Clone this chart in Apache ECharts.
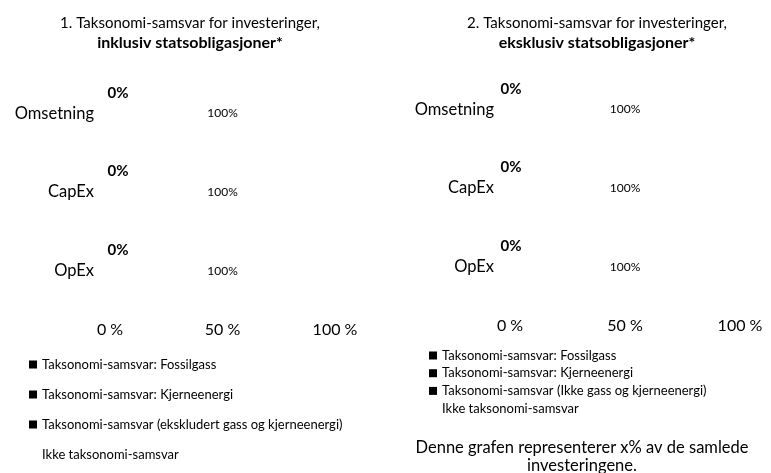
<!DOCTYPE html>
<html>
<head>
<meta charset="utf-8">
<script src="https://cdn.jsdelivr.net/npm/echarts@6/dist/echarts.min.js"></script>
<style>
html, body { margin: 0; padding: 0; background: #fff; }
#main { width: 771px; height: 473px; }
</style>
</head>
<body>
<div id="main"></div>
<script>
var myChart = echarts.init(document.getElementById('main'));

const categories = ['Omsetning', 'CapEx', 'OpEx'];
const xTicks = [0, 50, 100];

// 1. inklusiv statsobligasjoner
const gass1 = [0, 0, 0];
const kjerne1 = [0, 0, 0];
const samsvar1 = [0, 0, 0];
const ikke1 = [100, 100, 100];

// 2. eksklusiv statsobligasjoner
const gass2 = [0, 0, 0];
const kjerne2 = [0, 0, 0];
const samsvar2 = [0, 0, 0];
const ikke2 = [100, 100, 100];

const names1 = ['Taksonomi-samsvar: Fossilgass', 'Taksonomi-samsvar: Kjerneenergi',
    'Taksonomi-samsvar (ekskludert gass og kjerneenergi)', 'Ikke taksonomi-samsvar'];
const names2 = ['Taksonomi-samsvar: Fossilgass', 'Taksonomi-samsvar: Kjerneenergi',
    'Taksonomi-samsvar (Ikke gass og kjerneenergi)', 'Ikke taksonomi-samsvar'];

const font = 'Lato, "Open Sans", sans-serif';

function makeSeries(idx, data, name, color, label) {
    return {
        type: 'bar',
        name: name,
        xAxisIndex: idx,
        yAxisIndex: idx,
        stack: 'total' + idx,
        barWidth: 20,
        data: data,
        itemStyle: { color: color },
        label: label || { show: false }
    }
}

function zeroLabel(dx) {
    return {
        show: true, position: 'top', distance: 3, offset: [dx, 0],
        formatter: '{c}%', color: '#000', fontWeight: 'bold', fontSize: 15, fontFamily: font
    }
}
const fullLabel = {
    show: true, position: 'inside', formatter: '{c}%', color: '#000', fontSize: 12, fontFamily: font
}

function xAxis(idx) {
    return {
        type: 'value', gridIndex: idx, min: xTicks[0], max: xTicks[xTicks.length - 1], interval: 50,
        axisLine: { show: false }, axisTick: { show: false }, splitLine: { show: false },
        axisLabel: { formatter: '{value} %', color: '#000', fontSize: 16, fontFamily: font, margin: 12 }
    }
}
function yAxis(idx) {
    return {
        type: 'category', gridIndex: idx, data: categories, inverse: true,
        axisLine: { show: false }, axisTick: { show: false },
        axisLabel: { color: '#000', fontSize: 16.5, fontFamily: font, margin: 16 }
    }
}

const titleStyle = {
    color: '#000', fontSize: 15, fontWeight: 'normal', fontFamily: font, lineHeight: 19,
    rich: { b: { fontWeight: 'bold', fontSize: 16, fontFamily: font, lineHeight: 19 } }
}

option = {
    backgroundColor: '#fff',
    animation: false,
    title: [{
        text: '1. Taksonomi-samsvar for investeringer,\n{b|inklusiv statsobligasjoner*}',
        left: 185, top: 9, textAlign: 'center',
        textStyle: titleStyle
    }, {
        text: '2. Taksonomi-samsvar for investeringer,\n{b|eksklusiv statsobligasjoner*}',
        left: 592, top: 9, textAlign: 'center',
        textStyle: titleStyle
    }, {
        text: 'Denne grafen representerer x% av de samlede\ninvesteringene.',
        left: 577, top: 434, textAlign: 'center',
        textStyle: { color: '#000', fontSize: 16.5, fontWeight: 'normal', fontFamily: font, lineHeight: 18 }
    }],
    legend: [{
        orient: 'vertical', left: 24, top: 353, itemGap: 17,
        itemWidth: 8, itemHeight: 8, icon: 'rect',
        data: names1,
        textStyle: { color: '#000', fontSize: 13, fontFamily: font }
    }, {
        orient: 'vertical', left: 424, top: 344, itemGap: 4.7,
        itemWidth: 8, itemHeight: 8, icon: 'rect',
        data: names2,
        textStyle: { color: '#000', fontSize: 13, fontFamily: font }
    }],
    grid: [
        { left: 110, width: 225, top: 74, height: 236 },
        { left: 510, width: 230, top: 70, height: 236 }
    ],
    xAxis: [xAxis(0), xAxis(1)],
    yAxis: [yAxis(0), yAxis(1)],
    series: [
        makeSeries(0, gass1, names1[0], '#000'),
        makeSeries(0, kjerne1, names1[1], '#000'),
        makeSeries(0, samsvar1, names1[2], '#000', zeroLabel(8)),
        makeSeries(0, ikke1, names1[3], '#fff', fullLabel),
        makeSeries(1, gass2, names2[0], '#000'),
        makeSeries(1, kjerne2, names2[1], '#000'),
        makeSeries(1, samsvar2, names2[2], '#000', zeroLabel(1)),
        makeSeries(1, ikke2, names2[3], '#fff', fullLabel)
    ]
};

myChart.setOption(option)
</script>
</body>
</html>
